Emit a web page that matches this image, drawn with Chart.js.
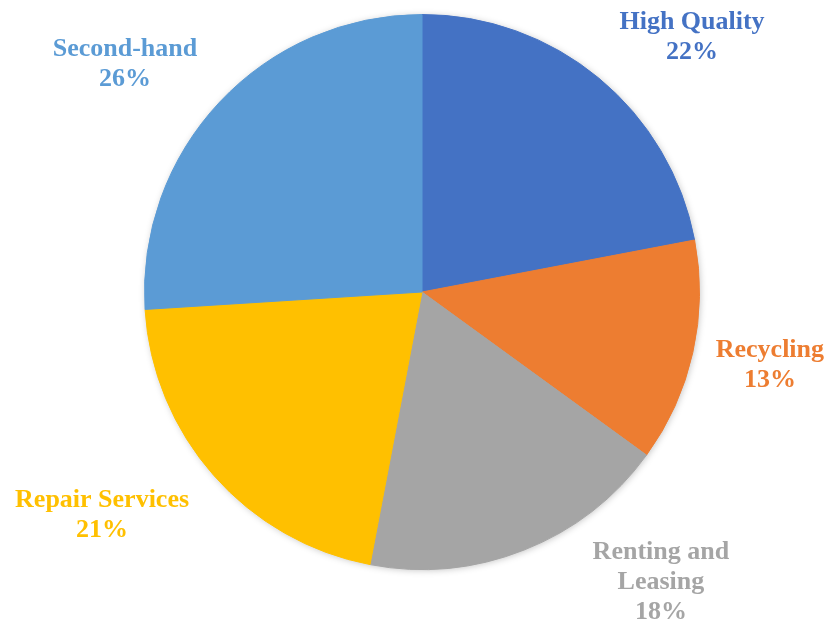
<!DOCTYPE html>
<html>
<head>
<meta charset="utf-8">
<script src="https://cdn.jsdelivr.net/npm/chart.js@4.4.1/dist/chart.umd.min.js"></script>
<style>
    html, body { margin: 0; padding: 0; background: #ffffff; }
    #wrap { width: 830px; height: 626px; position: relative; }
</style>
</head>
<body>
<div id="wrap"><canvas id="pie"></canvas></div>
<script>
// Chart data
const categories = ['High Quality', 'Recycling', 'Renting and Leasing', 'Repair Services', 'Second-hand'];
const shares = [22, 13, 18, 21, 26];
const sliceColors = ['#4472C4', '#ED7D31', '#A5A5A5', '#FFC000', '#5B9BD5'];
// how each label is broken into lines
const labelLines = [['High Quality'], ['Recycling'], ['Renting and', 'Leasing'], ['Repair Services'], ['Second-hand']];
// small pixel nudges so labels sit where the original put them
const labelNudge = [[33, 32], [-15, -8], [102, -55], [-41, -23], [-26, 27]];

// soft shadow under the whole pie (drawn once, so no seams between slices)
const shadowPlugin = {
    id: 'pieShadow',
    beforeDatasetsDraw(chart) {
        const ctx = chart.ctx;
        const arc = chart.getDatasetMeta(0).data[0];
        if (!arc) return;
        const p = arc.getProps(['x', 'y', 'outerRadius'], true);
        ctx.save();
        ctx.shadowColor = 'rgba(0,0,0,0.25)';
        ctx.shadowBlur = 7;
        ctx.shadowOffsetX = 1;
        ctx.shadowOffsetY = 1;
        ctx.fillStyle = '#ffffff';
        ctx.beginPath();
        ctx.arc(p.x, p.y, p.outerRadius - 0.5, 0, Math.PI * 2);
        ctx.fill();
        ctx.restore();
    }
};

// outside labels: name + percentage, in slice colour
const outsideLabels = {
    id: 'outsideLabels',
    afterDatasetsDraw(chart) {
        const ctx = chart.ctx;
        const meta = chart.getDatasetMeta(0);
        const total = shares.reduce((a, b) => a + b, 0);
        ctx.save();
        ctx.font = 'bold 26px "Liberation Serif", "Times New Roman", serif';
        ctx.textAlign = 'center';
        ctx.textBaseline = 'middle';
        meta.data.forEach((arc, i) => {
            const p = arc.getProps(['x', 'y', 'startAngle', 'endAngle', 'outerRadius'], true);
            const mid = (p.startAngle + p.endAngle) / 2;
            const dist = p.outerRadius * 1.34;
            const cx = p.x + Math.cos(mid) * dist + labelNudge[i][0];
            const cy = p.y + Math.sin(mid) * dist + labelNudge[i][1];
            const lines = labelLines[i].concat([Math.round(shares[i] / total * 100) + '%']);
            const lh = 30;
            const top = cy - (lines.length - 1) * lh / 2;
            ctx.fillStyle = sliceColors[i];
            lines.forEach((t, k) => ctx.fillText(t, cx, top + k * lh));
        });
        ctx.restore();
    }
};

function renderPie() {
    new Chart(document.getElementById('pie'), {
        type: 'pie',
        data: {
            labels: categories,
            datasets: [{
                data: shares,
                backgroundColor: sliceColors,
                borderColor: sliceColors, // same colour as fill hides the anti-alias seams
                borderWidth: 1,
            }],
        },
        options: {
            responsive: true,
            maintainAspectRatio: false,
            animation: false,
            layout: { padding: { top: 14, bottom: 56, left: 144, right: 130 } },
            plugins: {
                legend: { display: false },
                tooltip: { enabled: false },
            },
        },
        plugins: [shadowPlugin, outsideLabels],
    });
}

document.addEventListener('DOMContentLoaded', renderPie);
</script>
</body>
</html>
